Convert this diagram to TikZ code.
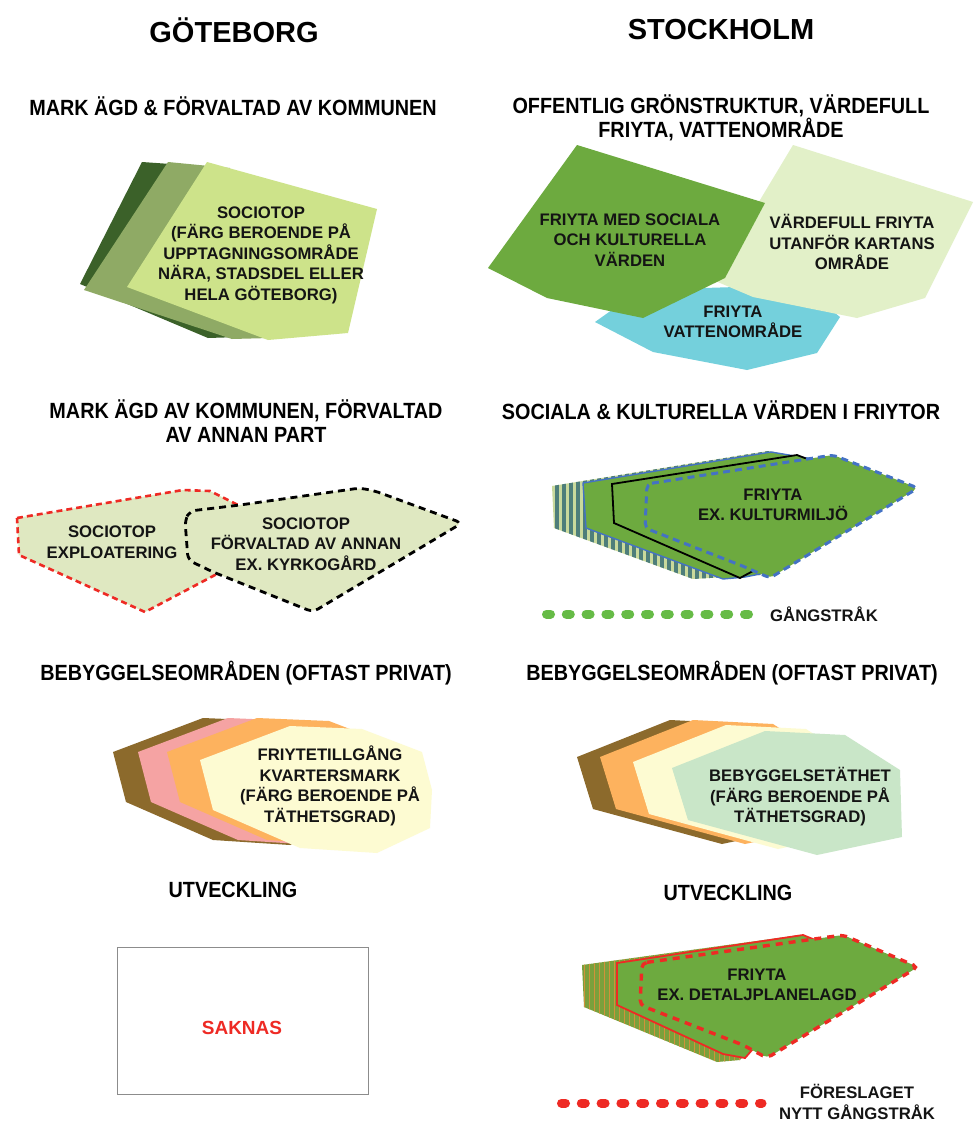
\documentclass[tikz,border=0pt]{standalone}
\usepackage{fontspec}
\setmainfont{Liberation Sans}
\newfontfamily\headfont[FakeStretch=0.9]{Liberation Sans}
\definecolor{gdark}{HTML}{3B6129}
\definecolor{gmid}{HTML}{8FAA65}
\definecolor{glight}{HTML}{CDE38A}
\definecolor{fgreen}{HTML}{6DAA3F}
\definecolor{palegreen}{HTML}{E2F0C8}
\definecolor{water}{HTML}{74D0DC}
\definecolor{sage}{HTML}{DFE8C1}
\definecolor{dred}{HTML}{EE2A24}
\definecolor{dblue}{HTML}{4472C4}
\definecolor{stripeteal}{HTML}{4E7E7A}
\definecolor{stripelight}{HTML}{C9D99C}
\definecolor{bbrown}{HTML}{8C6A2C}
\definecolor{bpink}{HTML}{F5A3A3}
\definecolor{borange}{HTML}{FDB25E}
\definecolor{bcream}{HTML}{FDFBD2}
\definecolor{bmint}{HTML}{C9E6C8}
\definecolor{dotgreen}{HTML}{66BB46}
\definecolor{oliveg}{HTML}{7AA03C}
\definecolor{stripeorange}{HTML}{D0923A}
\definecolor{boxgray}{HTML}{8C8C8C}
\tikzset{
  lbl/.style={font=\bfseries\fontsize{16.7}{20.5}\selectfont, align=center, text=black!92, inner sep=0pt},
  head/.style={font=\headfont\bfseries\fontsize{22}{23.5}\selectfont, align=center, inner sep=0pt},
  bigtitle/.style={font=\bfseries\fontsize{29}{34}\selectfont, inner sep=0pt},
  reddash/.style={draw=dred, line width=2.6pt, dash pattern=on 6pt off 4pt},
  blackdash/.style={draw=black, line width=2.8pt, dash pattern=on 7pt off 5pt},
  bluedash/.style={draw=dblue, line width=3pt, dash pattern=on 7pt off 5pt},
  reddashb/.style={draw=dred, line width=3.4pt, dash pattern=on 7pt off 6pt},
  dotline/.style={line width=9pt, line cap=round, dash pattern=on 4pt off 15.8pt},
}
\newcommand\gbshape{(200,760) -- (290,726) -- (362,729) -- (422,752) -- (432,790) -- (430,828) -- (377,853) -- (300,848) -- (213,810) -- cycle}
\newcommand\stshape{(672,768) -- (765,731) -- (845,735) -- (900,770) -- (902,837) -- (817,855) -- (688,820) -- cycle}
\begin{document}
\begin{tikzpicture}[x=1pt,y=-1pt]
\useasboundingbox (0,0) rectangle (974,1122);
\fill[white] (0,0) rectangle (974,1122);

% titles
\node[bigtitle] (tg) at (234,30) {GÖTEBORG};
\node[bigtitle] (ts) at (721,30) {STOCKHOLM};

% headings
\node[head] (h1) at (233,106) {MARK ÄGD \& FÖRVALTAD AV KOMMUNEN};
\node[head] (h2) at (721,118) {OFFENTLIG GRÖNSTRUKTUR, VÄRDEFULL\\FRIYTA, VATTENOMRÅDE};
\node[head] (h3) at (246,421) {MARK ÄGD AV KOMMUNEN, FÖRVALTAD\\AV ANNAN PART};
\node[head] (h4) at (721,410) {SOCIALA \& KULTURELLA VÄRDEN I FRIYTOR};
\node[head] (h5) at (246,673) {BEBYGGELSEOMRÅDEN (OFTAST PRIVAT)};
\node[head] (h6) at (732,673) {BEBYGGELSEOMRÅDEN (OFTAST PRIVAT)};
\node[head] (h7) at (233,890) {UTVECKLING};
\node[head] (h8) at (728,893) {UTVECKLING};

% ---- Göteborg sociotop stack
\fill[gdark] (142,162) -- (185,165) -- (240,337) -- (208,338) -- (80,284) -- cycle;
\fill[gmid] (168,162) -- (230,168) -- (270,338) -- (232,339) -- (84,290) -- cycle;
\fill[glight] (207,162) -- (377,209) -- (348,333) -- (268,340) -- (127,287) -- cycle;
\node[lbl] (l1) at (261,255) {SOCIOTOP\\(FÄRG BEROENDE PÅ\\UPPTAGNINGSOMRÅDE\\NÄRA, STADSDEL ELLER\\HELA GÖTEBORG)};

% ---- Stockholm green structure
\fill[water] (595,322) -- (640,290) -- (800,285) -- (840,317) -- (817,353) -- (747,370) -- (653,352) -- cycle;
\fill[palegreen] (793,145) -- (973,202) -- (925,298) -- (857,318) -- (753,297) -- (713,280) -- (745,225) -- cycle;
\fill[fgreen] (577,145) -- (765,203) -- (725,278) -- (643,318) -- (547,298) -- (488,268) -- cycle;
\node[lbl] (l2) at (630,240) {FRIYTA MED SOCIALA\\OCH KULTURELLA\\VÄRDEN};
\node[lbl] (l3) at (852,242) {VÄRDEFULL FRIYTA\\UTANFÖR KARTANS\\OMRÅDE};
\node[lbl] (l4) at (733,322) {FRIYTA\\VATTENOMRÅDE};

% ---- Göteborg dashed sociotops
\path[fill=sage, reddash] (17,518) -- (183,490) -- (210,491) -- (248,510) -- (215,575) -- (145,612) -- (19,555) -- cycle;
\path[fill=sage, blackdash, rounded corners=6pt] (185,520) -- (190,511) -- (240,505) -- (360,488) -- (375,491) -- (462,523) -- (313,612) -- (213,572) -- (188,560) -- cycle;
\node[lbl] (l5) at (112,542) {SOCIOTOP\\EXPLOATERING};
\node[lbl] (l6) at (306,544) {SOCIOTOP\\FÖRVALTAD AV ANNAN\\EX. KYRKOGÅRD};

% ---- Stockholm kulturmiljö
\begin{scope}
  \clip (552,486) -- (768,451) -- (830,462) -- (760,575) -- (693,579) -- (554,528) -- cycle;
  \fill[stripelight] (540,440) rectangle (850,590);
  \foreach \xx in {548,555,...,840} \fill[stripeteal] (\xx,440) rectangle ({\xx+3.5},590);
\end{scope}
\path[fill=fgreen, draw=dblue, line width=1.4pt] (583,483) -- (771,452) -- (830,462) -- (760,574) -- (745,577) -- (723,579) -- (586,528) -- cycle;
\path[fill=fgreen, draw=black, line width=1.8pt] (612,484) -- (797,455) -- (830,468) -- (765,570) -- (753,571) -- (740,578) -- (614,523) -- cycle;
\path[fill=fgreen, bluedash, rounded corners=5pt] (647,484) -- (833,455) -- (918,488) -- (770,578) -- (745,567) -- (645,528) -- cycle;
\node[lbl] (l7) at (773,505) {FRIYTA\\EX. KULTURMILJÖ};
\coordinate (g1) at (546.5,614);
\coordinate (g2) at (749,614);
\draw[dotline, dotgreen] (g1) -- (g2);
\node[lbl, anchor=west] (l8) at (770,614) {GÅNGSTRÅK};

% ---- Göteborg bebyggelse
\fill[bbrown, shift={(-87,-8)}] \gbshape;
\fill[bpink, shift={(-62,-8)}] \gbshape;
\fill[borange, shift={(-33,-8)}] \gbshape;
\fill[bcream] \gbshape;
\node[lbl] (l9) at (330,786) {FRIYTETILLGÅNG\\KVARTERSMARK\\(FÄRG BEROENDE PÅ\\TÄTHETSGRAD)};

% ---- Stockholm bebyggelse
\fill[bbrown, shift={(-95,-11)}] \stshape;
\fill[borange, shift={(-72,-11)}] \stshape;
\fill[bcream, shift={(-39,-6)}] \stshape;
\fill[bmint] \stshape;
\node[lbl] (l10) at (800,797) {BEBYGGELSETÄTHET\\(FÄRG BEROENDE PÅ\\TÄTHETSGRAD)};

% ---- Göteborg utveckling
\draw[boxgray, line width=1pt] (117,947) rectangle (368,1094);
\node[font=\bfseries\fontsize{19}{22}\selectfont, text=dred, inner sep=0pt] (l11) at (242,1028) {SAKNAS};

% ---- Stockholm utveckling
\begin{scope}
  \clip (582,965) -- (800,935) -- (840,950) -- (740,1060) -- (717,1062) -- (584,1007) -- cycle;
  \fill[oliveg] (570,925) rectangle (850,1070);
  \foreach \xx in {584,589,...,845} \fill[stripeorange] (\xx,925) rectangle ({\xx+1.2},1070);
\end{scope}
\path[fill=fgreen, draw=dred, line width=1.8pt] (617,963) -- (803,935) -- (840,950) -- (745,1058) -- (723,1054) -- (617,1005) -- cycle;
\path[fill=fgreen, reddashb, rounded corners=5pt] (642,963) -- (843,935) -- (918,967) -- (767,1058) -- (743,1045) -- (640,1005) -- cycle;
\node[lbl] (l12) at (757,985) {FRIYTA\\EX. DETALJPLANELAGD};
\coordinate (r1) at (561.5,1103);
\coordinate (r2) at (762,1103);
\draw[dotline, dred] (r1) -- (r2);
\node[lbl] (l13) at (857,1102) {FÖRESLAGET\\NYTT GÅNGSTRÅK};
\end{tikzpicture}
\end{document}
